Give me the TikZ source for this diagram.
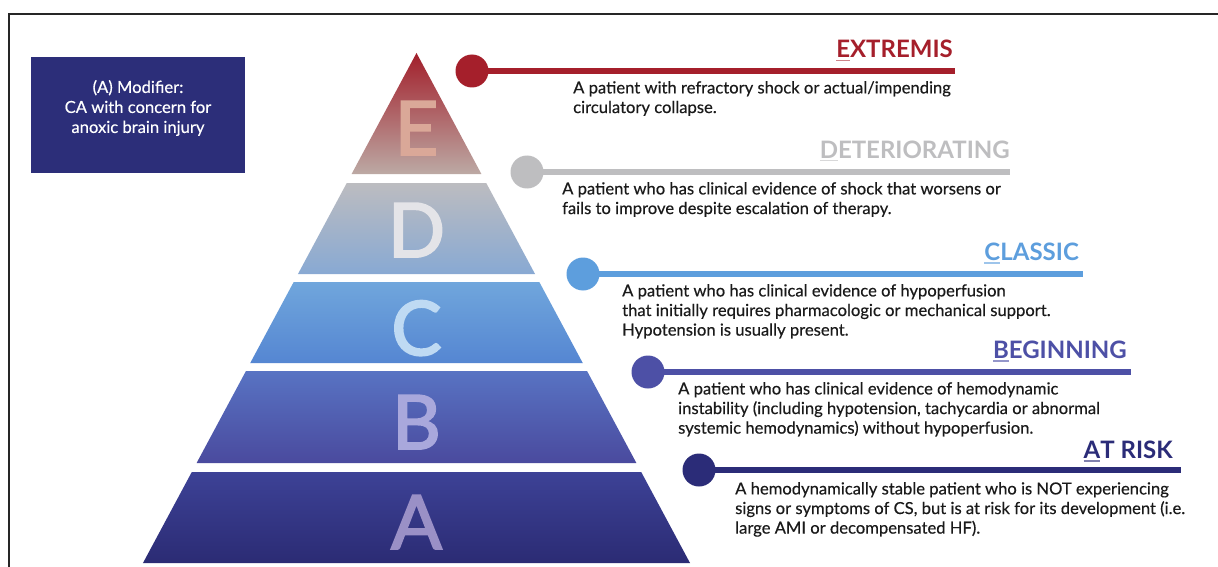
\documentclass[tikz,border=0pt]{standalone}
\usepackage{fontspec}
\setmainfont{Lato}
\newfontfamily\bandfont{Lato}[FakeBold=2.6]
\newfontfamily\descfont{Lato}[FakeBold=0.35]
\definecolor{txt}{HTML}{1A1A1A}
\definecolor{navy}{HTML}{2C2E79}
% stage colours
\definecolor{cE}{HTML}{A51F2B}
\definecolor{cD}{HTML}{BEBEC0}
\definecolor{cC}{HTML}{5D9EDD}
\definecolor{cB}{HTML}{4D50A6}
\definecolor{cA}{HTML}{2B2C78}
% pyramid band gradients
\definecolor{eTop}{HTML}{A21F2B}\definecolor{eBot}{HTML}{BCA9A4}
\definecolor{dTop}{HTML}{BCBCC0}\definecolor{dBot}{HTML}{88A9D3}
\definecolor{cTop}{HTML}{70A6DC}\definecolor{cBot}{HTML}{5586D2}
\definecolor{bTop}{HTML}{5873C3}\definecolor{bBot}{HTML}{4A4A9E}
\definecolor{aTop}{HTML}{3D4296}\definecolor{aBot}{HTML}{2B2B74}
% letter colours
\definecolor{lE}{HTML}{DAA898}
\definecolor{lD}{HTML}{E4E4E8}
\definecolor{lC}{HTML}{BFDAF3}
\definecolor{lB}{HTML}{A9A8DC}
\definecolor{lA}{HTML}{9A90C6}
% first letter of a heading, underlined in a lighter tone
\newcommand\ulletter[2]{\setbox0\hbox{#2}\rlap{\textcolor{#1}{\rule[-3.5pt]{\wd0}{1.3pt}}}\box0}
\begin{document}
\begin{tikzpicture}[x=1pt,y=-1pt,
  desc/.style={anchor=north west,inner sep=0pt,align=left,text=txt,
    font=\descfont\fontsize{16.6}{19.6}\selectfont},
  head/.style={anchor=base east,inner sep=0pt,font=\fontsize{24}{24}\selectfont\bfseries},
  dot/.style={circle,fill=#1,minimum size=33pt,inner sep=0pt},
  bar/.style={line width=5.5pt,#1},
  band letter/.style={anchor=base,inner sep=0pt,text=#1,font=\bandfont\fontsize{75}{75}\selectfont}]
\useasboundingbox (0,0) rectangle (1218,567);
\fill[white] (0,0) rectangle (1218,567);
% frame
\draw[line width=2pt,black!85] (9,567) -- (9,14) -- (1218,14);

% pyramid bands
\foreach \yt/\yb/\ct/\cb in {53/174/eTop/eBot,183/274/dTop/dBot,282/363/cTop/cBot,371/463/bTop/bBot,472/563/aTop/aBot}{
  \pgfmathsetmacro\hwt{0.5363*(\yt-53)}
  \pgfmathsetmacro\hwb{0.5363*(\yb-53)}
  \shade[top color=\ct,bottom color=\cb]
    (416.5-\hwt,\yt) -- (416.5+\hwt,\yt) -- (416.5+\hwb,\yb) -- (416.5-\hwb,\yb) -- cycle;
}
\node[band letter=lE] (letE) at (416.5,155) {E};
\node[band letter=lD] (letD) at (416.5,257) {D};
\node[band letter=lC] (letC) at (416.5,355) {C};
\node[band letter=lB] (letB) at (416.5,449) {B};
\node[band letter=lA] (letA) at (416.5,549) {A};

% modifier box
\node[fill=navy,minimum width=214pt,minimum height=116pt,inner sep=0pt] (modifier) at (138,115) {};
\node[text=white,align=center,inner sep=0pt,font=\descfont\fontsize{16.6}{20}\selectfont] (modtext) at (138,108)
  {(A) Modifier:\\CA with concern for\\anoxic brain injury};

% stage E
\coordinate (endE) at (955,71);
\draw[bar=cE] (472,71) -- (endE);
\node[dot=cE] (dotE) at (472,71) {};
\node[head,text=cE] (headE) at (953,58) {\ulletter{cE!55!white}{E}XTREMIS};
\node[desc] (descE) at (573,81) {A patient with refractory shock or actual/impending\\circulatory collapse.};

% stage D
\coordinate (endD) at (1010,172);
\draw[bar=cD] (527,172) -- (endD);
\node[dot=cD] (dotD) at (527,172) {};
\node[head,text=cD] (headD) at (1010,158) {\ulletter{cD!60!white}{D}ETERIORATING};
\node[desc] (descD) at (562,182) {A patient who has clinical evidence of shock that worsens or\\fails to improve despite escalation of therapy.};

% stage C
\coordinate (endC) at (1083,274);
\draw[bar=cC] (583,274) -- (endC);
\node[dot=cC] (dotC) at (583,274) {};
\node[head,text=cC] (headC) at (1079,260) {\ulletter{cC!60!white}{C}LASSIC};
\node[desc] (descC) at (622,284) {A patient who has clinical evidence of hypoperfusion\\that initially requires pharmacologic or mechanical support.\\Hypotension is usually present.};

% stage B
\coordinate (endB) at (1131,372);
\draw[bar=cB] (648,372) -- (endB);
\node[dot=cB] (dotB) at (648,372) {};
\node[head,text=cB] (headB) at (1127,358) {\ulletter{cB!60!white}{B}EGINNING};
\node[desc] (descB) at (678,382) {A patient who has clinical evidence of hemodynamic\\instability (including hypotension, tachycardia or abnormal\\systemic hemodynamics) without hypoperfusion.};

% stage A
\coordinate (endA) at (1181,470);
\draw[bar=cA] (699,470) -- (endA);
\node[dot=cA] (dotA) at (699,470) {};
\node[head,text=cA] (headA) at (1173,458) {\ulletter{cA!60!white}{A}T RISK};
\node[desc] (descA) at (735,482) {A hemodynamically stable patient who is NOT experiencing\\signs or symptoms of CS, but is at risk for its development (i.e.\\large AMI or decompensated HF).};
\end{tikzpicture}
\end{document}
